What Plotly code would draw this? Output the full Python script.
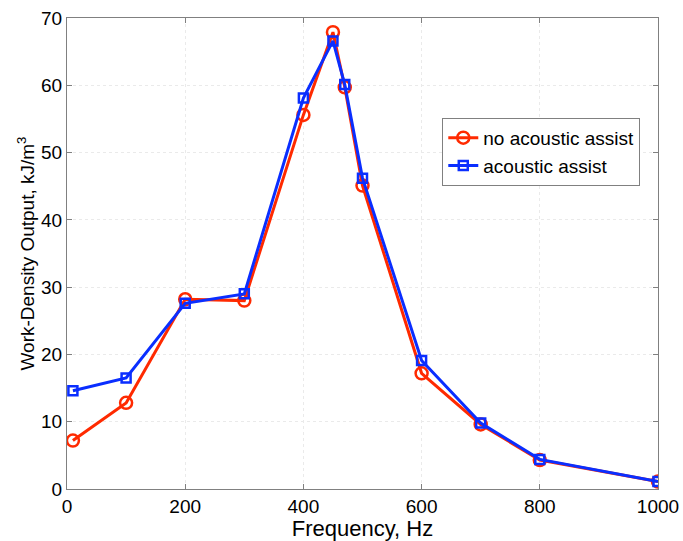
import plotly.graph_objects as go

freq = [10, 100, 200, 300, 400, 450, 470, 500, 600, 700, 800, 1000]
no_assist = [7.2, 12.8, 28.2, 28.0, 55.6, 67.9, 59.7, 45.1, 17.2, 9.6, 4.3, 1.1]
assist = [14.6, 16.5, 27.6, 29.0, 58.1, 66.6, 60.1, 46.2, 19.1, 9.8, 4.4, 1.1]

x_ticks = [0, 200, 400, 600, 800, 1000]
y_ticks = [0, 10, 20, 30, 40, 50, 60, 70]

fig = go.Figure()
fig.add_trace(go.Scatter(
    x=freq, y=no_assist, name="no acoustic assist", mode="lines+markers",
    line=dict(color="#FF2A00", width=3),
    marker=dict(symbol="circle-open", size=12, color="#FF2A00", line=dict(width=2.5)),
))
fig.add_trace(go.Scatter(
    x=freq, y=assist, name="acoustic assist", mode="lines+markers",
    line=dict(color="#0A2EFF", width=3),
    marker=dict(symbol="square-open", size=9, color="#0A2EFF", line=dict(width=2.5)),
))

axis_common = dict(
    showline=True, linecolor="#808080", linewidth=1, mirror="ticks",
    ticks="inside", ticklen=5, tickcolor="#808080",
    showgrid=True, gridcolor="#EAEAEA", griddash="dot", gridwidth=1,
    zeroline=False, automargin=False,
    tickfont=dict(family="Liberation Sans, Arial", size=19, color="black"),
)

fig.update_layout(
    width=683, height=541,
    margin=dict(l=67, r=25, t=18, b=52),
    paper_bgcolor="white", plot_bgcolor="white",
    font=dict(family="Liberation Sans, Arial", color="black"),
    xaxis=dict(range=[0, 1000], tickvals=x_ticks,
               title=dict(text="Frequency, Hz", font=dict(size=22), standoff=2),
               **axis_common),
    yaxis=dict(range=[0, 70], tickvals=y_ticks,
               title=dict(text="Work-Density Output, kJ/m<sup>3</sup>", font=dict(size=19), standoff=1),
               **axis_common),
    legend=dict(x=0.635, y=0.788, xanchor="left", yanchor="top",
                bgcolor="white", bordercolor="#808080", borderwidth=1,
                font=dict(size=19, family="Liberation Sans, Arial"),
                tracegroupgap=0, itemwidth=30),
    showlegend=True,
)

fig.write_html("out.html")
